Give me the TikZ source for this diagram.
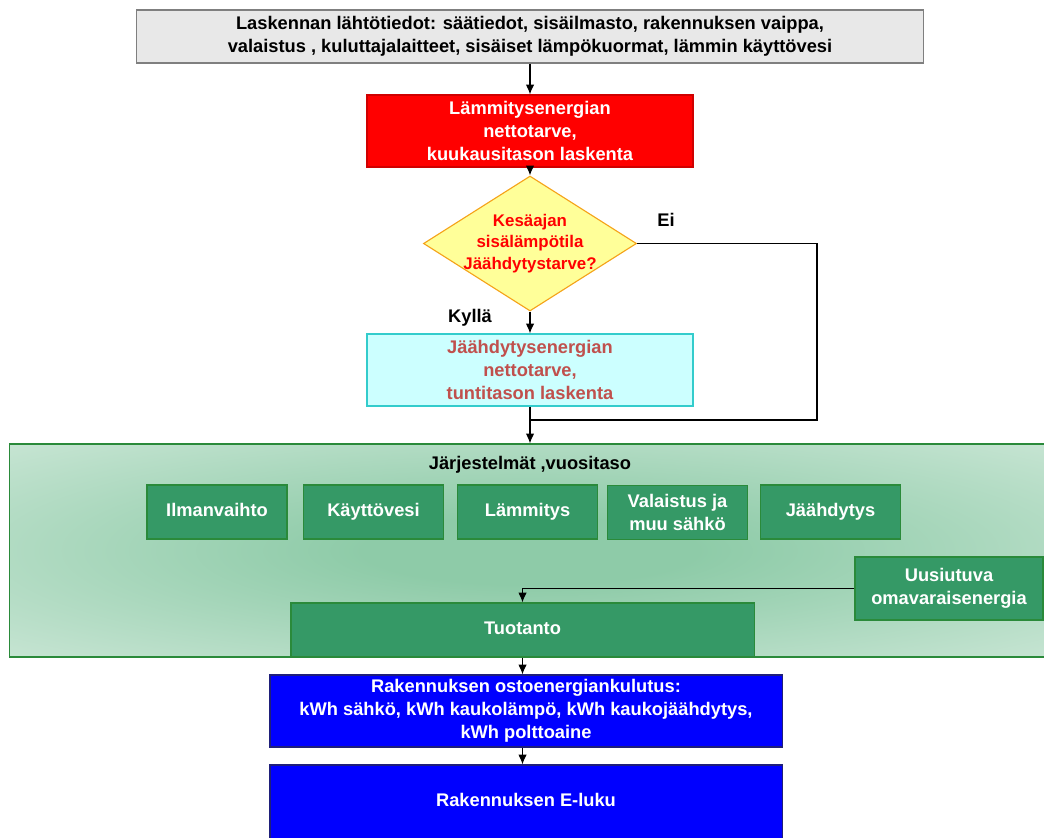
\documentclass[tikz,border=0pt]{standalone}
\usepackage{fontspec}
\setmainfont{Liberation Sans}
\usetikzlibrary{shapes.geometric, arrows.meta}

\definecolor{topgray}{HTML}{E8E8E8}
\definecolor{topline}{HTML}{7F7F7F}
\definecolor{heatred}{HTML}{FF0000}
\definecolor{heatline}{HTML}{D00000}
\definecolor{diafill}{HTML}{FFFF99}
\definecolor{dialine}{HTML}{F5A31A}
\definecolor{coolfill}{HTML}{CCFFFF}
\definecolor{coolline}{HTML}{33CCCC}
\definecolor{cooltext}{HTML}{C0504D}
\definecolor{sysgreen}{HTML}{359966}
\definecolor{sysline}{HTML}{2A8A3A}
\definecolor{sysmid}{HTML}{8ECBA8}
\definecolor{sysedge}{HTML}{E4F2E9}
\definecolor{eblue}{HTML}{0000FF}
\definecolor{eline}{HTML}{1F1F7A}

\pgfdeclareradialshading{sysshade}{\pgfpoint{0bp}{0bp}}{color(0bp)=(sysmid); color(8bp)=(sysmid); color(50bp)=(sysedge)}

\tikzset{
  txt/.style={font=\bfseries\fontsize{13}{16.5}\selectfont, align=center},
  box/.style={txt, rectangle, draw, line width=0.8pt, inner sep=2pt},
  subbox/.style={box, fill=sysgreen, draw=sysline, text=white, minimum width=3.5cm, minimum height=1.35cm},
  oneline/.style={text height=9.5pt, text depth=2.8pt},
  bluebox/.style={box, fill=eblue, draw=eline, text=white, minimum width=12.8cm},
  arr/.style={-{Latex[length=7pt,width=6pt]}, line width=0.8pt},
  conn/.style={line width=0.8pt}
}

\begin{document}
\begin{tikzpicture}[x=0.025cm, y=-0.025cm]
    \useasboundingbox (0,0) rectangle (1044,837);

    % laskennan vaiheet
    \node[box, fill=topgray, draw=topline, minimum width=19.65cm, minimum height=1.325cm] (top) at (530,36.5)
        {Laskennan lähtötiedot: säätiedot, sisäilmasto, rakennuksen vaippa,\\ valaistus , kuluttajalaitteet, sisäiset lämpökuormat, lämmin käyttövesi};
    \node[box, fill=heatred, draw=heatline, text=white, minimum width=8.15cm, minimum height=1.8cm] (heat) at (530,131)
        {Lämmitysenergian\\ nettotarve,\\ kuukausitason laskenta};
    \node[diamond, draw=dialine, line width=0.8pt, fill=diafill, inner sep=0pt,
          minimum width=5.325cm, minimum height=3.375cm] (summer) at (530,243.5) {};
    \node[txt, text=heatred, font=\bfseries\fontsize{12}{15.2}\selectfont] (summertext) at (summer) {Kesäajan\\ sisälämpötila\\ Jäähdytystarve?};
    \node[box, fill=coolfill, draw=coolline, text=cooltext, minimum width=8.15cm, minimum height=1.8cm] (cool) at (530,370)
        {Jäähdytysenergian\\ nettotarve,\\ tuntitason laskenta};
    \node[txt] (ei) at (666,220) {Ei};
    \node[txt] (kylla) at (470,318) {Kyllä};
    \coordinate (eiturn) at (817,420);

    % järjestelmät
    \node[rectangle, draw=sysline, line width=0.8pt, shading=sysshade, minimum width=26cm, minimum height=5.325cm] (sys) at (530,550.5) {};
    \node[txt] (systitle) at (530,465) {Järjestelmät ,vuositaso};
    \node[subbox, oneline] (vent) at (217,512) {Ilmanvaihto};
    \node[subbox, oneline] (water) at (373.5,512) {Käyttövesi};
    \node[subbox, oneline] (heating) at (527.5,512) {Lämmitys};
    \node[subbox] (light) at (677.5,512.5) {Valaistus ja\\ muu sähkö};
    \node[subbox, oneline] (cooling) at (830.5,512) {Jäähdytys};
    \node[subbox, minimum width=4.7cm, minimum height=1.575cm] (renew) at (949,588.5) {Uusiutuva\\ omavaraisenergia};
    \node[subbox, oneline, minimum width=11.575cm] (prod) at (522.5,630) {Tuotanto};

    % ostoenergia ja E-luku
    \node[bluebox, minimum height=1.8cm] (bought) at (526,711)
        {Rakennuksen ostoenergiankulutus:\\ kWh sähkö, kWh kaukolämpö, kWh kaukojäähdytys,\\ kWh polttoaine};
    \node[bluebox, oneline, minimum height=1.85cm] (eluku) at (526,802) {Rakennuksen E-luku};

    % nuolet
    \draw[arr] (top) -- (heat);
    \draw[arr] (heat) -- (summer);
    \draw[arr] (summer) -- (cool);
    \draw[arr] (cool) -- (cool.south |- sys.north);
    \draw[conn] (summer.east) -| (eiturn) -- (eiturn -| cool.south);
    \draw[arr] (renew.west) -| (prod.north);
    \draw[arr] (prod.south) -- (prod.south |- bought.north);
    \draw[arr] (prod.south |- bought.south) -- (prod.south |- eluku.north);
\end{tikzpicture}
\end{document}
